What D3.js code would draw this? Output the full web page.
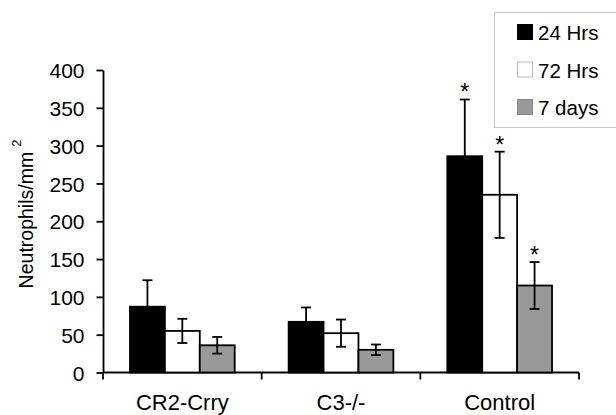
<!DOCTYPE html>
<html><head><meta charset="utf-8">
<script src="https://cdn.jsdelivr.net/npm/d3@7"></script>
<style>body{margin:0;background:#fff}svg{display:block}text{font-family:Arial,"Liberation Sans",sans-serif}</style>
</head><body><svg id="c" width="616" height="415"></svg>
<script>
const categories = ["CR2-Crry", "C3-/-", "Control"];
const seriesNames = ["24 Hrs", "72 Hrs", "7 days"];
const values24 = [87, 67, 286];
const values72 = [55, 52, 235];
const values7d = [36, 30, 115];
const err24 = [35, 19, 75];
const err72 = [16, 18, 57];
const err7d = [11, 7, 31];
const sig24 = [false, false, true];
const sig72 = [false, false, true];
const sig7d = [false, false, true];
const yTicks = [0, 50, 100, 150, 200, 250, 300, 350, 400];
const colors = ["#000000", "#ffffff", "#999999"];

const series = [
  {name: seriesNames[0], vals: values24, errs: err24, sig: sig24, color: colors[0]},
  {name: seriesNames[1], vals: values72, errs: err72, sig: sig72, color: colors[1]},
  {name: seriesNames[2], vals: values7d, errs: err7d, sig: sig7d, color: colors[2]}
];

const FONT = "Arial, 'Liberation Sans', sans-serif";
const SW = 1.8;
const svg = d3.select("#c");
const mLeft = 103, mRight = 579, mTop = 70, mBottom = 372.5;
const x = d3.scaleBand().domain(categories).range([mLeft, mRight]).paddingInner(0.34).paddingOuter(0.17);
const xs = d3.scaleBand().domain(d3.range(series.length)).range([0, x.bandwidth()]);
const y = d3.scaleLinear().domain([0, 400]).range([mBottom, mTop]);

// y axis
const ya = svg.append("g").attr("transform", `translate(${mLeft},0)`)
  .call(d3.axisLeft(y).tickValues(yTicks).tickSize(6.5).tickPadding(12).tickSizeOuter(0));
ya.attr("font-family", FONT);
ya.select(".domain").attr("stroke", "#000").attr("stroke-width", SW);
ya.selectAll(".tick line").attr("stroke-width", SW);
ya.selectAll("text").attr("font-size", 21).attr("fill", "#000").attr("dy", "0.36em");

// x axis
const xa = svg.append("g").attr("transform", `translate(0,${mBottom})`);
xa.append("line").attr("x1", mLeft).attr("x2", mRight).attr("stroke", "#000").attr("stroke-width", SW);
const bounds = [mLeft].concat(categories.map(c => x(c) + x.bandwidth() + x.step() * x.paddingInner() / 2));
bounds[bounds.length - 1] = mRight;
xa.selectAll("line.t").data(bounds).join("line").attr("class", "t")
  .attr("x1", d => d).attr("x2", d => d).attr("y1", 0).attr("y2", 7)
  .attr("stroke", "#000").attr("stroke-width", SW);
xa.selectAll("text").data(categories).join("text")
  .attr("x", d => x(d) + x.bandwidth() / 2).attr("y", 37.5)
  .attr("text-anchor", "middle").attr("font-size", 22).text(d => d);

// bars
series.forEach((s, i) => {
  const g = svg.append("g");
  g.selectAll("rect").data(categories).join("rect")
    .attr("x", c => x(c) + xs(i)).attr("width", xs.bandwidth())
    .attr("y", (c, j) => y(s.vals[j])).attr("height", (c, j) => y(0) - y(s.vals[j]))
    .attr("fill", s.color).attr("stroke", "#000").attr("stroke-width", SW);
});
// error bars
series.forEach((s, i) => {
  const g = svg.append("g").attr("stroke", "#000").attr("stroke-width", SW);
  categories.forEach((c, j) => {
    const cx = x(c) + xs(i) + xs.bandwidth() / 2;
    const hi = y(s.vals[j] + s.errs[j]), lo = y(s.vals[j] - s.errs[j]);
    g.append("line").attr("x1", cx).attr("x2", cx).attr("y1", hi).attr("y2", lo);
    g.append("line").attr("x1", cx - 5).attr("x2", cx + 5).attr("y1", hi).attr("y2", hi);
    g.append("line").attr("x1", cx - 5).attr("x2", cx + 5).attr("y1", lo).attr("y2", lo);
    if (s.sig[j]) {
      svg.append("text").attr("x", cx).attr("y", hi + 1).attr("text-anchor", "middle")
        .attr("font-size", 23).text("*");
    }
  });
});

// y label
const yl = svg.append("text").attr("transform", `translate(33,${214}) rotate(-90)`)
  .attr("text-anchor", "middle").attr("font-size", 19.5);
yl.append("tspan").text("Neutrophils/mm");
yl.append("tspan").attr("font-size", 13).attr("dy", -12).attr("dx", 5).text("2");

// legend
const lg = svg.append("g");
lg.append("rect").attr("x", 494.5).attr("y", 12.5).attr("width", 130).attr("height", 115)
  .attr("fill", "#fff").attr("stroke", "#c8c8c8").attr("stroke-width", 1);
series.forEach((s, i) => {
  const base = 40 + i * 37.5;
  lg.append("rect").attr("x", 517.5).attr("y", base - 15.5).attr("width", 15).attr("height", 15)
    .attr("fill", s.color).attr("stroke", i === 1 ? "#bbb" : (i === 2 ? "#888" : "#000")).attr("stroke-width", 1);
  lg.append("text").attr("x", 538).attr("y", base).attr("font-size", 20.5).text(s.name);
});
</script></body></html>
